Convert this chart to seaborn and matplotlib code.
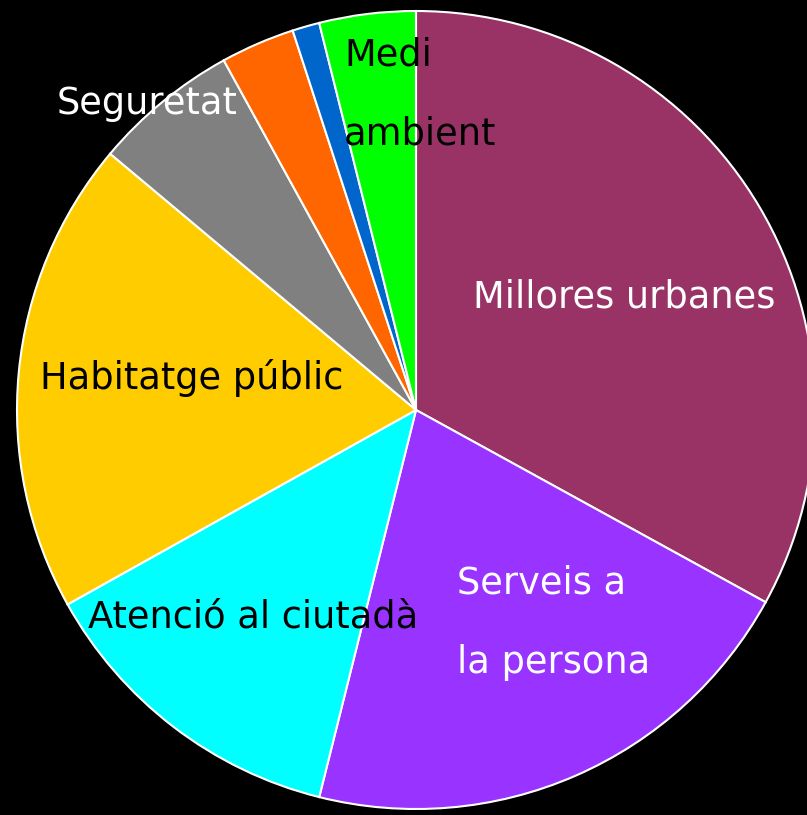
import matplotlib
matplotlib.use("Agg")
import matplotlib.pyplot as plt
import seaborn as sns

sns.set_theme(style="white")
plt.rcParams['font.family'] = ['DejaVu Sans']

categories = ["Millores urbanes", "Serveis a\n\nla persona", "Atenció al ciutadà",
              "Habitatge públic", "Seguretat", "Altres 1", "Altres 2", "Medi\n\nambient"]
values = [33.0, 20.9, 13.0, 19.2, 5.9, 3.0, 1.1, 3.9]
colors = ["#993366", "#9933FF", "#00FFFF", "#FFCC00", "#808080", "#FF6600", "#0066CC", "#00FF00"]
show_label = [True, True, True, True, True, False, False, True]
label_colors = ["white", "white", "black", "black", "white", None, None, "black"]
label_pos = [(0.143, 0.283), (0.103, -0.534), (-0.822, -0.519), (-0.942, 0.08),
             (-0.9, 0.767), None, None, (-0.18, 0.79)]

W, H = 807, 815
fig = plt.figure(figsize=(W / 100, H / 100), dpi=100, facecolor="black")
cx, cy, r = 416, 410, 399
ax = fig.add_axes([(cx - r) / W, (H - cy - r) / H, 2 * r / W, 2 * r / H])
ax.set_facecolor("black")

ax.pie(values, colors=colors, startangle=90, counterclock=False,
       wedgeprops=dict(edgecolor="white", linewidth=1.5), radius=1.0)
ax.set_xlim(-1, 1)
ax.set_ylim(-1, 1)
ax.set_aspect("equal")
ax.axis("off")

for lab, show, col, pos in zip(categories, show_label, label_colors, label_pos):
    if not show:
        continue
    ax.text(pos[0], pos[1], lab, color=col, fontsize=26.5, ha="left", va="center",
            linespacing=1.09)

fig.savefig("out.png", dpi=100, facecolor="black")
